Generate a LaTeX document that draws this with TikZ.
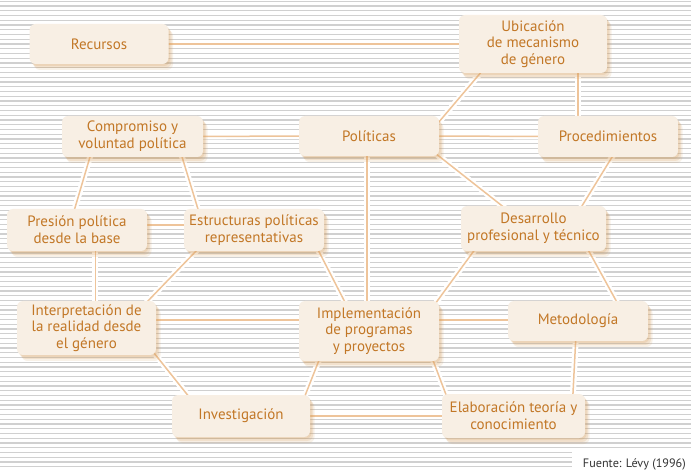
\documentclass[tikz,border=0pt]{standalone}
\usepackage{fontspec}
\setmainfont{PT Sans}
\usetikzlibrary{shadows,calc}
\definecolor{txtc}{HTML}{C27726}
\definecolor{boxf}{HTML}{F8EFE4}
\definecolor{shadc}{HTML}{D49C5A}
\definecolor{connc}{HTML}{EEC49A}
\definecolor{stripec}{HTML}{D0D0D0}
\definecolor{capc}{HTML}{333333}
\pgfdeclarelayer{stripes}
\pgfdeclarelayer{links}
\pgfsetlayers{stripes,links,main}
\begin{document}
\begin{tikzpicture}[x=1pt,y=-1pt,
  box/.style={rectangle, rounded corners=6pt, fill=boxf, text=txtc, align=center,
    font=\fontsize{15}{16.7}\selectfont, inner sep=0pt,
    general shadow={fill=shadc, opacity=0.18, shadow xshift=1.5pt, shadow yshift=-2pt},
    general shadow={fill=shadc, opacity=0.18, shadow xshift=3pt, shadow yshift=-4pt},
    general shadow={fill=shadc, opacity=0.14, shadow xshift=4.5pt, shadow yshift=-6pt}},
  link/.style={draw=white, line width=2.2pt, double=connc, double distance=1.5pt},
]
\useasboundingbox (0,0) rectangle (691,470);

% nodes
\node[box, minimum width=139pt, minimum height=40pt] (rec) at (99,44) {Recursos};
\node[box, minimum width=148pt, minimum height=58pt] (ubi) at (533,44) {Ubicación\\de mecanismo\\de género};
\node[box, minimum width=141pt, minimum height=41pt] (com) at (132.5,136.5) {Compromiso y\\voluntad política};
\node[box, minimum width=140pt, minimum height=40pt] (pol) at (369,136) {Políticas};
\node[box, minimum width=140pt, minimum height=41pt] (pro) at (608,136.5) {Procedimientos};
\node[box, minimum width=140pt, minimum height=42pt] (pre) at (77,230) {Presión política\\desde la base};
\node[box, minimum width=140pt, minimum height=42pt] (est) at (254,230) {Estructuras políticas\\representativas};
\node[box, minimum width=145pt, minimum height=45pt] (des) at (533.5,228.5) {Desarrollo\\profesional y técnico};
\node[box, minimum width=139pt, minimum height=54pt] (int) at (86.5,328) {Interpretación de\\la realidad desde\\el género};
\node[box, minimum width=140pt, minimum height=60pt] (imp) at (369,331) {Implementación\\de programas\\y proyectos};
\node[box, minimum width=140pt, minimum height=40pt] (met) at (578,321) {Metodología};
\node[box, minimum width=138pt, minimum height=42pt] (inv) at (241,416) {Investigación};
\node[box, minimum width=143pt, minimum height=44pt] (ela) at (513.5,416) {Elaboración teoría y\\conocimiento};

\node[anchor=base east, text=capc, font=\fontsize{12.2}{14}\selectfont, inner sep=0pt] (cap) at (686,467) {Fuente: Lévy (1996)};

% connectors
\begin{pgfonlayer}{links}
\draw[link] (rec) -- (ubi);
\draw[link] ($(ubi.south west)+(24,-3)$) -- ($(pol.north east)+(-1,7)$);
\draw[link] ($(ubi.south west)+(119,-3)$) -- ($(pro.north west)+(40,3)$);
\draw[link] (com) -- (pol);
\draw[link] (pol) -- (pro);
\draw[link] ($(pol.south east)+(-4,-3)$) -- ($(des.north west)+(45,3)$);
\draw[link] ($(pro.south west)+(76,-3)$) -- ($(des.north east)+(-26,3)$);
\draw[link] ($(com.south west)+(29,-3)$) -- ($(pre.north west)+(67,3)$);
\draw[link] ($(com.south east)+(-22,-3)$) -- ($(est.north west)+(15,3)$);
\draw[link] ($(pre.east)+(-5,-5)$) -- ($(est.west)+(5,-5)$);
\draw[link] ($(pre.south west)+(88.5,-3)$) -- ($(int.north west)+(78.5,3)$);
\draw[link] ($(est.south west)+(15,-3)$) -- ($(int.north east)+(-11,3)$);
\draw[link] ($(est.south east)+(-7,-3)$) -- ($(imp.north west)+(47,3)$);
\draw[link] ($(pol.south west)+(68,-3)$) -- ($(imp.north west)+(68,3)$);
\draw[link] ($(des.south west)+(15,-3)$) -- ($(imp.north east)+(-4,3)$);
\draw[link] ($(des.south east)+(-19,-3)$) -- ($(met.north west)+(110,3)$);
\draw[link] ($(int.east)+(-3,-8)$) -- ($(imp.west)+(3,-11)$);
\draw[link] ($(imp.east)+(-3,-11)$) -- ($(met.west)+(3,-1)$);
\draw[link] ($(int.south east)+(-6,-7)$) -- ($(inv.north west)+(18,3)$);
\draw[link] ($(imp.south west)+(21,-3)$) -- ($(inv.north east)+(-6,3)$);
\draw[link] ($(imp.south east)+(-7,-3)$) -- ($(ela.north west)+(5,3)$);
\draw[link] (inv) -- (ela);
\draw[link] ($(met.south west)+(68,-3)$) -- ($(ela.north west)+(131,3)$);
\end{pgfonlayer}

% striped background
\begin{pgfonlayer}{stripes}
\fill[white] (0,0) rectangle (691,470);
\foreach \i in {0,...,98} {
  \draw[stripec, line width=1.2pt] (0,{1.2+\i*4.75}) -- (691,{1.2+\i*4.75});
}
\fill[white] (572,451) rectangle (691,470);
\end{pgfonlayer}
\end{tikzpicture}
\end{document}
